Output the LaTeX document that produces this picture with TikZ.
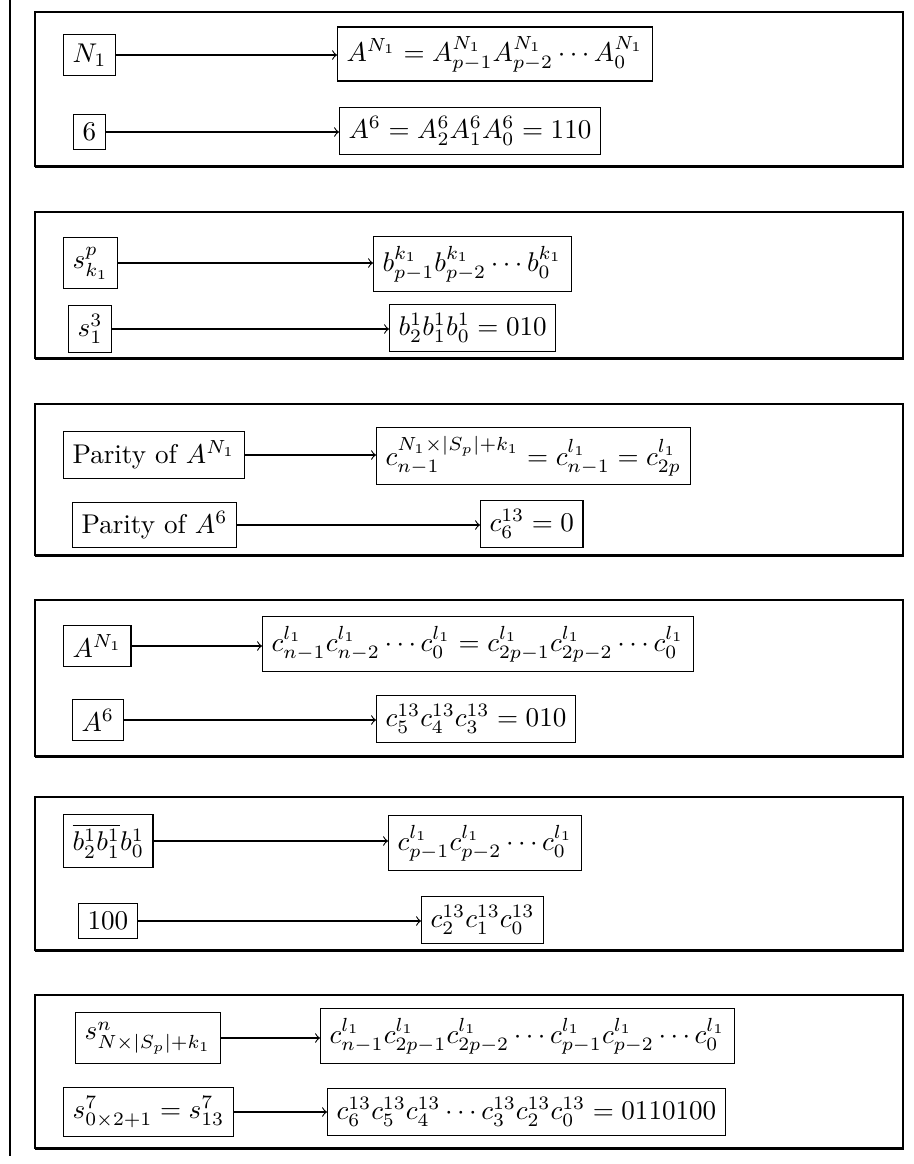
\documentclass[tikz,border=0pt]{standalone}
\usetikzlibrary{arrows}
\begin{document}
\begin{tikzpicture}[x=0.369pt, y=-0.369pt,
  bx/.style={draw, anchor=west, inner sep=0.3333em},
  conn/.style={->},
  panel/.style={draw, line width=0.5pt},
  panelshade/.style={line width=1.1pt}]
\useasboundingbox (0,0) rectangle (914,1164);
\draw (10,0) -- (10,1156);
% panels
\foreach \t/\b in {12/166, 212/358, 404/555, 600/756, 797/950, 995/1148} {
  \draw[panel] (35,\t) rectangle (903,\b);
  \draw[panelshade] (903,\t) -- (903,\b) -- (35,\b);
}
% panel 1
\node[bx] (s11) at (63,55) {$N_1$};
\node[bx] (t11) at (337,54) {$A^{N_1} = A^{N_1}_{p-1}A^{N_1}_{p-2}\cdots A^{N_1}_0$};
\node[bx] (s12) at (73,132) {$6$};
\node[bx] (t12) at (339,131) {$A^6 = A^6_2A^6_1A^6_0 = 110$};
% panel 2
\node[bx] (s21) at (63,263) {$s^p_{k_1}$};
\node[bx] (t21) at (373,264) {$b^{k_1}_{p-1}b^{k_1}_{p-2}\cdots b^{k_1}_0$};
\node[bx] (s22) at (68,329) {$s^3_1$};
\node[bx] (t22) at (389,328) {$b^1_2b^1_1b^1_0 = 010$};
% panel 3
\node[bx] (s31) at (63,455) {Parity of $A^{N_1}$};
\node[bx] (t31) at (376,456) {$c^{N_1\times|S_p|+k_1}_{n-1} = c^{l_1}_{n-1} = c^{l_1}_{2p}$};
\node[bx] (s32) at (72,525) {Parity of $A^6$};
\node[bx] (t32) at (480,524) {$c^{13}_6 = 0$};
% panel 4
\node[bx] (s41) at (63,646) {$A^{N_1}$};
\node[bx] (t41) at (262,644) {$c^{l_1}_{n-1}c^{l_1}_{n-2}\cdots c^{l_1}_0 = c^{l_1}_{2p-1}c^{l_1}_{2p-2}\cdots c^{l_1}_0$};
\node[bx] (s42) at (72,720) {$A^6$};
\node[bx] (t42) at (376,719) {$c^{13}_5c^{13}_4c^{13}_3 = 010$};
% panel 5
\node[bx] (s51) at (63,841) {$\overline{b^1_2b^1_1}b^1_0$};
\node[bx] (t51) at (388,843) {$c^{l_1}_{p-1}c^{l_1}_{p-2}\cdots c^{l_1}_0$};
\node[bx] (s52) at (78,921) {$100$};
\node[bx] (t52) at (421,920) {$c^{13}_2c^{13}_1c^{13}_0$};
% panel 6
\node[bx] (s61) at (75,1038) {$s^n_{N\times|S_p|+k_1}$};
\node[bx] (t61) at (320,1036) {$c^{l_1}_{n-1}c^{l_1}_{2p-1}c^{l_1}_{2p-2}\cdots c^{l_1}_{p-1}c^{l_1}_{p-2}\cdots c^{l_1}_0$};
\node[bx] (s62) at (63,1112) {$s^7_{0\times2+1} = s^7_{13}$};
\node[bx] (t62) at (327,1112) {$c^{13}_6c^{13}_5c^{13}_4\cdots c^{13}_3c^{13}_2c^{13}_0 = 0110100$};
% connectors
\foreach \p in {11,12,21,22,31,32,41,42,51,52,61,62}
  \draw[conn] (s\p.east) -- (s\p.east -| t\p.west);
\end{tikzpicture}
\end{document}
